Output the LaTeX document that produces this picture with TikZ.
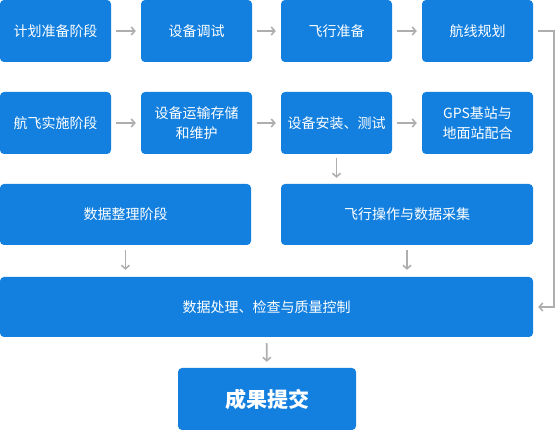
\documentclass[tikz,border=0pt]{standalone}
\usepackage{fontspec}
\setmainfont{Noto Sans CJK SC}
\usetikzlibrary{arrows.meta}
\definecolor{boxblue}{HTML}{1380E0}
\definecolor{arrowgray}{HTML}{AEAEAE}
\tikzset{
    stage/.style={fill=boxblue, rounded corners=4pt, text=white, align=center,
        font=\fontsize{14}{20}\selectfont, inner sep=0pt,
        minimum width=111pt, minimum height=62pt},
    flow/.style={draw=arrowgray, line width=1.6pt, -{Straight Barb[length=3.5pt,width=8pt]}}
}

\begin{document}
\begin{tikzpicture}[x=1pt,y=-1pt]
    \useasboundingbox (0,0) rectangle (555,430);
    % first row
    \node[stage] (plan) at (55.5,31) {计划准备阶段};
    \node[stage] (tune) at (196.5,31) {设备调试};
    \node[stage] (prep) at (336.5,31) {飞行准备};
    \node[stage] (route) at (477.5,31) {航线规划};
    % second row
    \node[stage] (fly) at (55.5,123) {航飞实施阶段};
    \node[stage] (keep) at (196.5,123) {设备运输存储\\和维护};
    \node[stage] (setup) at (336.5,123) {设备安装、测试};
    \node[stage] (gps) at (477.5,123) {GPS基站与\\地面站配合};
    % third row
    \node[stage, minimum width=251pt, minimum height=61pt] (sort) at (125.5,214.5) {数据整理阶段};
    \node[stage, minimum width=252pt, minimum height=61pt] (collect) at (407,214.5) {飞行操作与数据采集};
    \node[stage, minimum width=533pt, minimum height=60pt] (proc) at (266.5,307) {数据处理、检查与质量控制};
    \node[stage, minimum width=178pt, font=\fontsize{21}{24}\selectfont\bfseries] (done) at (267,399) {成果提交};

    \draw[flow, shorten <=5pt, shorten >=5pt] (plan) -- (tune);
    \draw[flow, shorten <=5pt, shorten >=5pt] (tune) -- (prep);
    \draw[flow, shorten <=5pt, shorten >=5pt] (prep) -- (route);
    \draw[flow, shorten <=5pt, shorten >=5pt] (fly) -- (keep);
    \draw[flow, shorten <=5pt, shorten >=5pt] (keep) -- (setup);
    \draw[flow, shorten <=5pt, shorten >=5pt] (setup) -- (gps);
    \draw[flow, shorten <=4pt, shorten >=6pt] (setup.south) -- (setup.south |- collect.north);
    \draw[flow, shorten <=5pt, shorten >=7pt] (sort) -- (sort |- proc.north);
    \draw[flow, shorten <=5pt, shorten >=7pt] (collect) -- (collect |- proc.north);
    \draw[flow, shorten <=6pt, shorten >=6pt] (proc) -- (done);
    \draw[flow, shorten <=5pt, shorten >=5pt] (route.east) -- ++(20.5,0) |- (proc.east);

\end{tikzpicture}
\end{document}
